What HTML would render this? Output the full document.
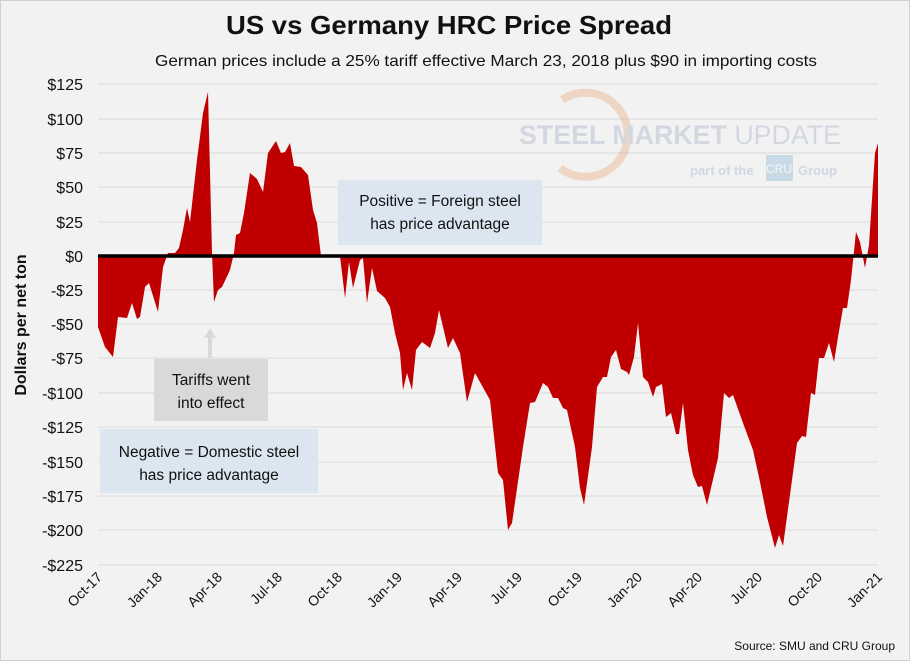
<!DOCTYPE html>
<html><head><meta charset="utf-8"><style>
html,body{margin:0;padding:0;background:#f2f2f2;}
svg{display:block;font-family:"Liberation Sans",sans-serif;}
</style></head><body>
<svg width="910" height="661" viewBox="0 0 910 661" xmlns="http://www.w3.org/2000/svg">
<rect x="0" y="0" width="910" height="661" fill="#f2f2f2"/>
<rect x="0.5" y="0.5" width="909" height="660" fill="none" stroke="#d0d0d0"/>
<text x="449" y="34" text-anchor="middle" font-size="26" font-weight="bold" fill="#111" textLength="446" lengthAdjust="spacingAndGlyphs">US vs Germany HRC Price Spread</text>
<text x="486" y="66" text-anchor="middle" font-size="16" fill="#111" textLength="662" lengthAdjust="spacingAndGlyphs">German prices include a 25% tariff effective March 23, 2018 plus $90 in importing costs</text>
<g stroke="#d9d9d9" stroke-width="1">
<line x1="98" x2="878" y1="84" y2="84"/><line x1="98" x2="878" y1="119" y2="119"/><line x1="98" x2="878" y1="153" y2="153"/><line x1="98" x2="878" y1="187" y2="187"/><line x1="98" x2="878" y1="222" y2="222"/><line x1="98" x2="878" y1="290" y2="290"/><line x1="98" x2="878" y1="324" y2="324"/><line x1="98" x2="878" y1="358" y2="358"/><line x1="98" x2="878" y1="393" y2="393"/><line x1="98" x2="878" y1="427" y2="427"/><line x1="98" x2="878" y1="462" y2="462"/><line x1="98" x2="878" y1="496" y2="496"/><line x1="98" x2="878" y1="530" y2="530"/><line x1="98" x2="878" y1="565" y2="565"/>
</g>
<g opacity="0.35">
<path d="M 562 100 A 42 42 0 1 1 560 168" fill="none" stroke="#e8a070" stroke-width="8"/>
<text x="519" y="144" font-size="27" font-weight="bold" fill="#9aa8c0" textLength="322" lengthAdjust="spacingAndGlyphs">STEEL MARKET <tspan font-weight="normal">UPDATE</tspan></text>
<text x="690" y="175" font-size="13" font-weight="bold" fill="#8fa8c8">part of the</text>
<rect x="766" y="155" width="27" height="26" fill="#7aaed0"/>
<text x="779" y="173" text-anchor="middle" font-size="12" fill="#fff">CRU</text>
<text x="798" y="175" font-size="13" font-weight="bold" fill="#8fa8c8">Group</text>
</g>
<path fill="#c00000" d="M98,256 L98,327 105,347 113,357 118,317 127,318 132,303 137,319 140,317 145,287 149,283 158,312 163,267 168,253 175,253 179,248 183,230 187,208 190,222 197,160 203,113 208,92 212,253 214,302 218,290 222,287 230,270 234,253 236,235 240,233 244,213 250,173 257,179 263,192 268,153 276,141 281,153 285,152 290,143 294,166 301,167 308,175 313,210 317,223 321,256 340,256 345,298 349,262 353,288 360,260 363,258 367,303 372,268 377,291 385,298 390,307 395,333 400,353 403,390 407,373 412,390 416,350 422,342 430,348 435,333 439,310 448,348 453,338 460,353 467,402 475,373 490,400 498,473 503,480 508,530 512,523 523,447 530,403 535,402 543,383 548,387 553,398 558,398 563,408 567,410 575,447 580,488 584,505 592,447 597,387 603,377 607,377 611,357 616,350 621,369 627,372 629,375 634,357 638,323 643,377 648,382 653,397 656,387 662,384 666,417 671,413 676,434 679,434 683,403 688,450 693,475 698,487 702,486 707,505 718,458 724,393 729,398 733,395 743,423 753,450 760,482 767,517 775,548 779,535 783,546 792,480 797,443 802,436 806,437 811,393 815,395 819,358 824,358 829,343 834,362 838,337 843,308 847,308 851,280 856,232 860,242 865,268 869,245 875,153 878,143 878,256 Z"/>
<line x1="98" x2="878" y1="256" y2="256" stroke="#000" stroke-width="3.5"/>
<g font-size="16" fill="#111" text-anchor="end">
<text x="83" y="90">$125</text><text x="83" y="125">$100</text><text x="83" y="159">$75</text><text x="83" y="193">$50</text><text x="83" y="228">$25</text><text x="83" y="262">$0</text><text x="83" y="296">-$25</text><text x="83" y="330">-$50</text><text x="83" y="364">-$75</text><text x="83" y="399">-$100</text><text x="83" y="433">-$125</text><text x="83" y="468">-$150</text><text x="83" y="502">-$175</text><text x="83" y="536">-$200</text><text x="83" y="571">-$225</text>
</g>
<text transform="translate(26,325) rotate(-90)" text-anchor="middle" font-size="16" font-weight="bold" fill="#111">Dollars per net ton</text>
<g font-size="14" fill="#111" text-anchor="end">
<text transform="translate(103,578) rotate(-45)">Oct-17</text>
<text transform="translate(163,578) rotate(-45)">Jan-18</text>
<text transform="translate(223,578) rotate(-45)">Apr-18</text>
<text transform="translate(283,578) rotate(-45)">Jul-18</text>
<text transform="translate(343,578) rotate(-45)">Oct-18</text>
<text transform="translate(403,578) rotate(-45)">Jan-19</text>
<text transform="translate(463,578) rotate(-45)">Apr-19</text>
<text transform="translate(523,578) rotate(-45)">Jul-19</text>
<text transform="translate(583,578) rotate(-45)">Oct-19</text>
<text transform="translate(643,578) rotate(-45)">Jan-20</text>
<text transform="translate(703,578) rotate(-45)">Apr-20</text>
<text transform="translate(763,578) rotate(-45)">Jul-20</text>
<text transform="translate(823,578) rotate(-45)">Oct-20</text>
<text transform="translate(883,578) rotate(-45)">Jan-21</text>
</g>
<rect x="338" y="180" width="204" height="65" fill="#dce6f1"/>
<text x="440" y="206" text-anchor="middle" font-size="15.5" fill="#111">Positive = Foreign steel</text>
<text x="440" y="229" text-anchor="middle" font-size="15.5" fill="#111">has price advantage</text>
<polygon points="210,328 204,338 208,338 208,358 212,358 212,338 216,338" fill="#d9d9d9"/>
<rect x="154" y="359" width="114" height="62" fill="#d9d9d9"/>
<text x="211" y="385" text-anchor="middle" font-size="15.5" fill="#111">Tariffs went</text>
<text x="211" y="408" text-anchor="middle" font-size="15.5" fill="#111">into effect</text>
<rect x="100" y="429" width="218" height="64" fill="#dce6f1"/>
<text x="209" y="457" text-anchor="middle" font-size="15.5" fill="#111">Negative = Domestic steel</text>
<text x="209" y="480" text-anchor="middle" font-size="15.5" fill="#111">has price advantage</text>
<text x="895" y="650" text-anchor="end" font-size="12" fill="#111">Source: SMU and CRU Group</text>
</svg>
</body></html>
